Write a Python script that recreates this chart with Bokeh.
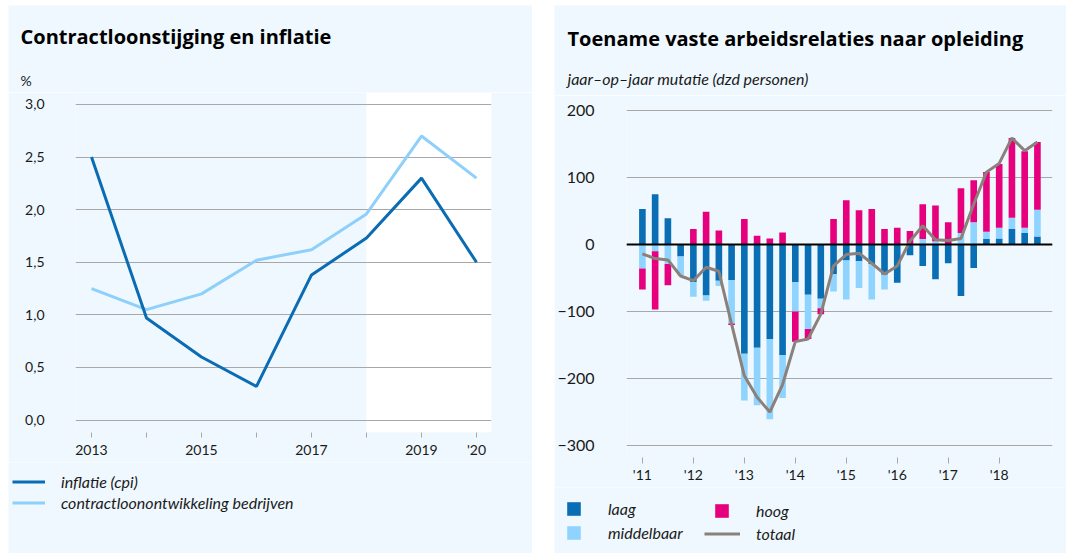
from bokeh.plotting import figure
from bokeh.models import (ColumnDataSource, Range1d, FixedTicker, CustomJSTickFormatter,
                          BoxAnnotation, Legend, LegendItem, Span, Label, Spacer)
from bokeh.layouts import row, column
from bokeh.embed import file_html
from bokeh.resources import INLINE
import numpy as np

# ---------------- data: left chart ----------------
years = [2013, 2014, 2015, 2016, 2017, 2018, 2019, 2020]
inflatie = [2.50, 0.97, 0.60, 0.32, 1.38, 1.73, 2.30, 1.50]
contractloon = [1.25, 1.05, 1.20, 1.52, 1.62, 1.96, 2.70, 2.30]
forecast_start = 2018
y_ticks_left = [0.0, 0.5, 1.0, 1.5, 2.0, 2.5, 3.0]

# ---------------- data: right chart ----------------
quarters = ["2011-1", "2011-2", "2011-3", "2011-4", "2012-1", "2012-2", "2012-3", "2012-4",
            "2013-1", "2013-2", "2013-3", "2013-4", "2014-1", "2014-2", "2014-3", "2014-4",
            "2015-1", "2015-2", "2015-3", "2015-4", "2016-1", "2016-2", "2016-3", "2016-4",
            "2017-1", "2017-2", "2017-3", "2017-4", "2018-1", "2018-2", "2018-3", "2018-4"]
laag = [53, 75, 39, -18, -56, -76, -54, -53, -163, -154, -141, -165, -56, -75, -81, -44,
        -24, -25, -29, -45, -57, -16, -32, -52, -28, -77, -35, 8, 9, 23, 17, 12]
middelbaar = [-36, -10, -29, -28, -22, -8, -8, -65, -70, -86, -120, -64, -44, -51, -14, -26,
              -58, -40, -53, -22, 0, 0, 8, 5, 0, 17, 33, 11, 16, 17, 8, 40]
hoog = [-31, -87, -32, 0, 23, 49, 21, -2, 38, 13, 9, 18, -45, -15, -9, 38,
        66, 51, 53, 23, 25, 20, 52, 53, 33, 67, 63, 89, 95, 119, 114, 101]
totaal = [-14, -21, -23, -47, -54, -34, -40, -119, -196, -228, -250, -209, -145, -141, -104, -32,
          -15, -13, -28, -44, -32, 5, 28, 7, 6, 9, 60, 108, 121, 159, 140, 153]
x_years_right = [2011, 2012, 2013, 2014, 2015, 2016, 2017, 2018]
y_ticks_right = [-300, -200, -100, 0, 100, 200]

# ---------------- styling ----------------
BG = "#eef8fe"
GRID = "#a8a8a8"
TXT = "#1a1a1a"
FONT = "Lato"
TFONT = "Open Sans"
C_INFL = "#0b6bb3"
C_CONTR = "#8ed0fa"
C_LAAG = "#0a6eb4"
C_MID = "#8fd4ff"
C_HOOG = "#e6007e"
C_TOT = "#8c807b"
NAN = float("nan")


def blank(width, height):
    f = figure(width=width, height=height, output_backend="svg", toolbar_location=None,
               x_range=Range1d(0, 1), y_range=Range1d(0, 1),
               x_axis_location=None, y_axis_location=None, min_border=0)
    f.frame_align = False
    f.grid.visible = False
    f.outline_line_color = None
    f.background_fill_color = BG
    f.border_fill_color = BG
    return f


def label(f, x, y, text, size, style="normal", color=TXT, font=FONT):
    f.add_layout(Label(x=x, y=y, x_units="screen", y_units="screen", text=text,
                       text_font=font, text_font_style=style, text_font_size=size,
                       text_color=color, text_baseline="alphabetic"))


leg_style = dict(padding=0, margin=0, background_fill_alpha=0, border_line_alpha=0,
                 label_text_font=FONT, label_text_font_style="italic",
                 label_text_font_size="16px", label_text_color=TXT)

# ================= LEFT PANEL =================
hl = blank(524, 87)
label(hl, 12, 56, "Contractloonstijging en inflatie", "20px", "bold", "black", TFONT)
label(hl, 12, 12, "%", "14px")

pl = figure(width=524, height=370, output_backend="svg", toolbar_location=None,
            x_range=Range1d(2012.709, 2020.273), y_range=Range1d(-0.118, 3.114),
            min_border_left=67, min_border_right=41, min_border_top=0, min_border_bottom=30)
pl.frame_align = False
pl.background_fill_color = BG
pl.border_fill_color = BG
pl.outline_line_color = None

pl.add_layout(BoxAnnotation(left=forecast_start, fill_color="white", fill_alpha=1.0,
                            line_alpha=0, level="image"))

src_l = ColumnDataSource(dict(year=years, infl=inflatie, contr=contractloon))
pl.line("year", "contr", source=src_l, line_color=C_CONTR, line_width=3)
pl.line("year", "infl", source=src_l, line_color=C_INFL, line_width=3)

pl.xgrid.visible = False
pl.ygrid.grid_line_color = GRID
pl.ygrid.grid_line_width = 1.2
pl.ygrid.ticker = FixedTicker(ticks=y_ticks_left)

pl.yaxis.ticker = FixedTicker(ticks=y_ticks_left)
pl.yaxis.formatter = CustomJSTickFormatter(code="return tick.toFixed(1).replace('.', ',');")
pl.yaxis.axis_line_color = None
pl.yaxis.major_tick_line_color = None
pl.yaxis.minor_tick_line_color = None
pl.yaxis.major_label_standoff = 25
pl.yaxis.major_label_text_font = FONT
pl.yaxis.major_label_text_font_size = "14px"
pl.yaxis.major_label_text_color = TXT

pl.xaxis.ticker = FixedTicker(ticks=years)
pl.xaxis.formatter = CustomJSTickFormatter(
    code="if (tick == 2020) return \"'20\"; return (tick % 2 == 1) ? String(tick) : '';")
pl.xaxis.axis_line_color = None
pl.xaxis.major_tick_line_color = GRID
pl.xaxis.major_tick_in = 0
pl.xaxis.major_tick_out = 5
pl.xaxis.minor_tick_line_color = None
pl.xaxis.major_label_standoff = 3
pl.xaxis.major_label_text_font = FONT
pl.xaxis.major_label_text_font_size = "14px"
pl.xaxis.major_label_text_color = TXT

ll = blank(524, 91)
d_infl = ll.line(x=[NAN], y=[NAN], line_color=C_INFL, line_width=3)
d_contr = ll.line(x=[NAN], y=[NAN], line_color=C_CONTR, line_width=3)
ll.add_layout(Legend(items=[LegendItem(label="inflatie (cpi)", renderers=[d_infl]),
                            LegendItem(label="contractloonontwikkeling bedrijven",
                                       renderers=[d_contr])],
                     location=(4, 40), glyph_width=33, glyph_height=21, label_height=21,
                     spacing=0, label_standoff=16, **leg_style))

left_panel = column(hl, pl, ll, spacing=0)

# ================= RIGHT PANEL =================
xq = [int(q.split("-")[0]) + (int(q.split("-")[1]) - 1) / 4 for q in quarters]

hr = blank(512, 90)
label(hr, 13, 57, "Toename vaste arbeidsrelaties naar opleiding", "20px", "bold", "black", TFONT)
label(hr, 13, 17, "jaar\u2013op\u2013jaar mutatie (dzd personen)", "16px", "italic")

pr = figure(width=512, height=392, output_backend="svg", toolbar_location=None,
            x_range=Range1d(2010.688, 2019.046), y_range=Range1d(-317.9, 210.4),
            min_border_left=69, min_border_right=14, min_border_top=8, min_border_bottom=30)
pr.frame_align = False
pr.background_fill_color = BG
pr.border_fill_color = BG
pr.outline_line_color = None

pos_base = np.zeros(len(xq))
neg_base = np.zeros(len(xq))
for name, vals, col in [("laag", laag, C_LAAG), ("middelbaar", middelbaar, C_MID), ("hoog", hoog, C_HOOG)]:
    v = np.array(vals, dtype=float)
    bottom = np.where(v >= 0, pos_base, neg_base)
    top = bottom + v
    pos_base = np.where(v >= 0, top, pos_base)
    neg_base = np.where(v < 0, top, neg_base)
    s = ColumnDataSource(dict(x=xq, bottom=bottom, top=top))
    pr.vbar(x="x", bottom="bottom", top="top", width=0.13, source=s,
            fill_color=col, line_color=None)

pr.add_layout(Span(location=0, dimension="width", line_color="black", line_width=2))
src_t = ColumnDataSource(dict(x=xq, tot=totaal))
pr.line("x", "tot", source=src_t, line_color=C_TOT, line_width=3)

pr.xgrid.visible = False
pr.ygrid.grid_line_color = GRID
pr.ygrid.grid_line_width = 1.2
pr.ygrid.ticker = FixedTicker(ticks=y_ticks_right)

pr.yaxis.ticker = FixedTicker(ticks=y_ticks_right)
pr.yaxis.formatter = CustomJSTickFormatter(
    code="return tick < 0 ? '\u2212' + Math.abs(tick) : String(tick);")
pr.yaxis.axis_line_color = None
pr.yaxis.major_tick_line_color = None
pr.yaxis.minor_tick_line_color = None
pr.yaxis.major_label_standoff = 26
pr.yaxis.major_label_text_font = FONT
pr.yaxis.major_label_text_font_size = "16px"
pr.yaxis.major_label_text_color = TXT

pr.xaxis.ticker = FixedTicker(ticks=x_years_right)
pr.xaxis.formatter = CustomJSTickFormatter(code="return \"'\" + String(tick).slice(2);")
pr.xaxis.axis_line_color = None
pr.xaxis.major_tick_line_color = GRID
pr.xaxis.major_tick_in = 0
pr.xaxis.major_tick_out = 6
pr.xaxis.minor_tick_line_color = None
pr.xaxis.major_label_standoff = 2
pr.xaxis.major_label_text_font = FONT
pr.xaxis.major_label_text_font_size = "14px"
pr.xaxis.major_label_text_color = TXT

lr = blank(512, 66)
d_laag = lr.vbar(x=[NAN], top=[NAN], width=0.1, fill_color=C_LAAG, line_color=None)
d_mid = lr.vbar(x=[NAN], top=[NAN], width=0.1, fill_color=C_MID, line_color=None)
d_hoog = lr.vbar(x=[NAN], top=[NAN], width=0.1, fill_color=C_HOOG, line_color=None)
d_tot = lr.line(x=[NAN], y=[NAN], line_color=C_TOT, line_width=3)
lr.add_layout(Legend(items=[LegendItem(label="laag", renderers=[d_laag]),
                            LegendItem(label="middelbaar", renderers=[d_mid])],
                     location=(11, 11.5), glyph_width=17, glyph_height=17, label_height=17,
                     spacing=5, label_standoff=26, **leg_style))
lr.add_layout(Legend(items=[LegendItem(label="hoog", renderers=[d_hoog])],
                     location=(159, 33.5), glyph_width=17, glyph_height=17, label_height=17,
                     spacing=0, label_standoff=26, **leg_style))
lr.add_layout(Legend(items=[LegendItem(label="totaal", renderers=[d_tot])],
                     location=(150, 10.5), glyph_width=36, glyph_height=17, label_height=17,
                     spacing=0, label_standoff=16, **leg_style))

right_panel = column(hr, pr, lr, spacing=0)

layout = column(Spacer(height=5),
                row(Spacer(width=8), left_panel, Spacer(width=22), right_panel, spacing=0),
                spacing=0)
open("out.html", "w").write(file_html(layout, INLINE))
